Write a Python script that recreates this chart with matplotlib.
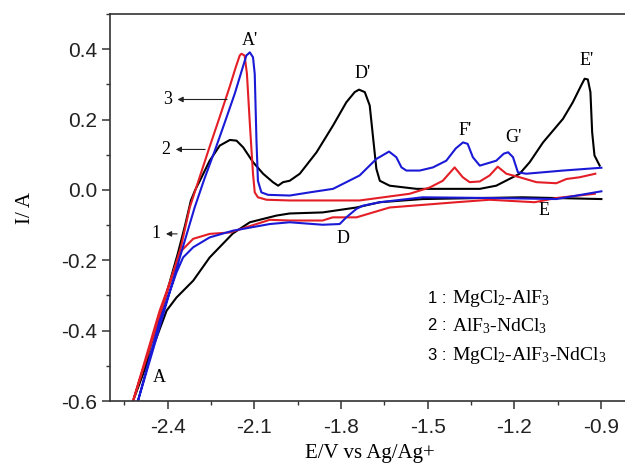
# Libraries
import matplotlib
matplotlib.use("Agg")
import matplotlib.pyplot as plt
from matplotlib.ticker import MultipleLocator

plt.rcParams['axes.unicode_minus'] = False
plt.rcParams['mathtext.default'] = 'regular'

# Black curve: cathodic branch (right -> left) then anodic branch (left -> right)
black_x = [-0.899, -1.172, -1.518, -1.666, -1.747, -1.864, -1.978, -2.024, -2.116, -2.175,
           -2.255, -2.312, -2.370, -2.404, -2.462, -2.521,
           -2.462, -2.410, -2.365, -2.340, -2.320, -2.305, -2.289, -2.255, -2.220, -2.185,
           -2.162, -2.139, -2.105, -2.070, -2.036, -2.018, -2.001, -1.978, -1.943, -1.885,
           -1.828, -1.782, -1.753, -1.738, -1.718, -1.701, -1.690, -1.678, -1.666, -1.632,
           -1.539, -1.424, -1.320, -1.263, -1.182, -1.147, -1.101, -1.032, -0.998, -0.969,
           -0.957, -0.946, -0.937, -0.931, -0.923, -0.905]
black_y = [-0.026, -0.021, -0.026, -0.035, -0.050, -0.064, -0.067, -0.073, -0.092, -0.124,
           -0.192, -0.258, -0.306, -0.343, -0.471, -0.602,
           -0.450, -0.310, -0.180, -0.100, -0.030, 0.000, 0.026, 0.083, 0.126, 0.142,
           0.140, 0.121, 0.079, 0.046, 0.022, 0.012, 0.022, 0.026, 0.046, 0.107,
           0.183, 0.249, 0.278, 0.285, 0.278, 0.240, 0.154, 0.060, 0.026, 0.012,
           0.003, 0.003, 0.003, 0.012, 0.046, 0.079, 0.135, 0.202, 0.249, 0.297,
           0.316, 0.314, 0.278, 0.164, 0.098, 0.069]

# Red curve
red_x = [-0.922, -1.055, -1.130, -1.286, -1.401, -1.632, -1.747, -1.829, -1.864, -1.978,
         -2.047, -2.185, -2.255, -2.312, -2.353, -2.428, -2.521,
         -2.438, -2.355, -2.324, -2.289, -2.255, -2.220, -2.185, -2.165, -2.151, -2.145,
         -2.134, -2.126, -2.116, -2.105, -2.099, -2.088, -2.058, -1.978, -1.736, -1.563,
         -1.493, -1.448, -1.407, -1.379, -1.355, -1.320, -1.286, -1.258, -1.228, -1.182,
         -1.124, -1.055, -1.020, -0.974, -0.920]
red_y = [-0.011, -0.023, -0.035, -0.028, -0.035, -0.050, -0.078, -0.078, -0.087, -0.087,
         -0.085, -0.121, -0.125, -0.139, -0.173, -0.343, -0.602,
         -0.386, -0.164, -0.050, 0.038, 0.123, 0.208, 0.295, 0.348, 0.382, 0.387,
         0.382, 0.330, 0.189, 0.046, -0.007, -0.021, -0.028, -0.030, -0.030, -0.011,
         0.007, 0.026, 0.064, 0.036, 0.022, 0.024, 0.041, 0.066, 0.046, 0.036,
         0.022, 0.019, 0.031, 0.036, 0.046]

# Blue curve
blue_x = [-0.899, -1.055, -1.286, -1.518, -1.666, -1.725, -1.747, -1.782, -1.805, -1.864,
          -1.978, -2.047, -2.175, -2.255, -2.312, -2.347, -2.370, -2.428, -2.504,
          -2.442, -2.382, -2.341, -2.307, -2.273, -2.237, -2.203, -2.168, -2.144, -2.128,
          -2.116, -2.105, -2.099, -2.093, -2.088, -2.076, -2.053, -1.978, -1.909, -1.828,
          -1.736, -1.678, -1.634, -1.609, -1.591, -1.574, -1.528, -1.482, -1.436, -1.403,
          -1.378, -1.362, -1.344, -1.320, -1.263, -1.237, -1.222, -1.205, -1.188, -1.159,
          -1.032, -0.899]
blue_y = [-0.004, -0.026, -0.023, -0.021, -0.035, -0.045, -0.054, -0.078, -0.097, -0.099,
          -0.092, -0.097, -0.116, -0.135, -0.163, -0.192, -0.235, -0.372, -0.602,
          -0.429, -0.258, -0.144, -0.050, 0.032, 0.112, 0.191, 0.274, 0.339, 0.382,
          0.391, 0.377, 0.330, 0.140, 0.026, -0.007, -0.014, -0.016, -0.007, 0.003,
          0.041, 0.088, 0.109, 0.093, 0.064, 0.055, 0.055, 0.064, 0.083, 0.118,
          0.135, 0.131, 0.093, 0.069, 0.083, 0.103, 0.107, 0.093, 0.050, 0.046,
          0.055, 0.063]

# Peak letters
peak_labels = ["A'", "D'", "F'", "G'", "E'", "D", "E", "A"]
peak_x = [-2.116, -1.724, -1.372, -1.205, -0.949, -1.793, -1.096, -2.430]
peak_y = [0.425, 0.330, 0.169, 0.150, 0.368, -0.139, -0.059, -0.533]

# Curve number arrows
num_labels = ['3', '2', '1']
num_y = [0.257, 0.115, -0.125]
num_head = [-2.376, -2.382, -2.416]
num_tail = [-2.185, -2.261, -2.358]

legend_nums = ['1', '2', '3']
legend_text = ['MgCl$_2$-AlF$_3$', 'AlF$_3$-NdCl$_3$', 'MgCl$_2$-AlF$_3$-NdCl$_3$']
legend_y = [-0.310, -0.386, -0.471]

fig = plt.figure(figsize=(6.25, 4.74), dpi=100)
ax = fig.add_axes([110 / 625, 73 / 474, 520 / 625, 387 / 474])

ax.plot(black_x, black_y, color='black', lw=1.5)
ax.plot(red_x, red_y, color='#e41e26', lw=1.5)
ax.plot(blue_x, blue_y, color='#1a1ad6', lw=1.5)

ax.set_xlim(-2.6, -0.8)
ax.set_ylim(-0.6, 0.5)
ax.xaxis.set_major_locator(MultipleLocator(0.3))
ax.xaxis.set_minor_locator(MultipleLocator(0.15))
ax.yaxis.set_major_locator(MultipleLocator(0.2))
ax.yaxis.set_minor_locator(MultipleLocator(0.1))
ax.xaxis.set_major_formatter(plt.FormatStrFormatter('%.1f'))
ax.yaxis.set_major_formatter(plt.FormatStrFormatter('%.1f'))

for side in ['left', 'bottom', 'top']:
    ax.spines[side].set_color('#333333')
    ax.spines[side].set_linewidth(1.2)
ax.spines['right'].set_visible(False)
ax.tick_params(which='major', direction='out', length=6, width=1.1, color='#333333',
               labelsize=15, labelcolor='#222222')
ax.tick_params(which='minor', direction='out', length=3, width=1.0, color='#333333')
ax.tick_params(axis='x', pad=6)
ax.tick_params(axis='y', pad=3)
for lab in ax.get_xticklabels() + ax.get_yticklabels():
    lab.set_family('Liberation Sans')

ax.set_xlabel('E/V vs Ag/Ag+', family='Liberation Serif', fontsize=15, labelpad=5)
ax.set_ylabel('I/ A', family='Liberation Serif', fontsize=15, labelpad=19)

for lab, x, y in zip(peak_labels, peak_x, peak_y):
    ax.text(x, y, lab, family='Liberation Serif', fontsize=13, ha='center', va='center')

for lab, y, head, tail in zip(num_labels, num_y, num_head, num_tail):
    ax.annotate('', xy=(head, y), xytext=(tail, y),
                arrowprops=dict(arrowstyle='-|>', color='#222222', lw=0.8, mutation_scale=8))
    ax.text(head - 0.01, y, lab, family='Liberation Serif', fontsize=13, ha='right', va='center')

for n, t, y in zip(legend_nums, legend_text, legend_y):
    ax.text(-1.499, y, n + ' :', family='Liberation Sans', fontsize=12, ha='left', va='center')
    ax.text(-1.417, y, t, family='Liberation Serif', fontsize=14, ha='left', va='center')

fig.savefig('out.png', dpi=100)
